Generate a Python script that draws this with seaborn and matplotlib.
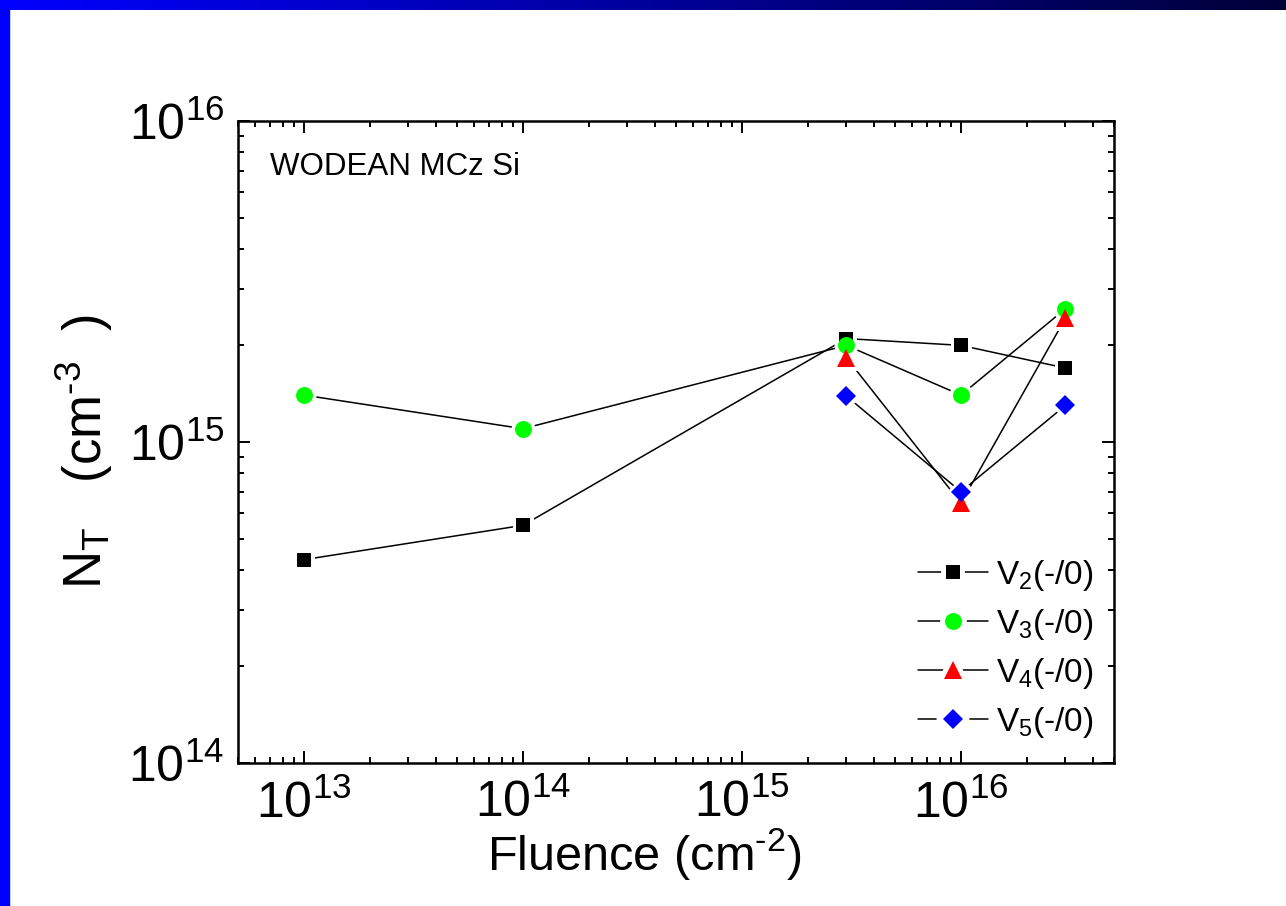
import numpy as np
import pandas as pd
import matplotlib
matplotlib.use("Agg")
import matplotlib.pyplot as plt
import seaborn as sns
from matplotlib.lines import Line2D
from matplotlib.patches import Rectangle
from matplotlib.colors import LinearSegmentedColormap
from matplotlib.ticker import LogLocator, NullFormatter
from matplotlib.legend_handler import HandlerTuple

# ---------------- data ----------------
fluence_all = [1e13, 1e14, 3e15, 1e16, 3e16]
fluence_high = [3e15, 1e16, 3e16]
v2_vals = [4.3e14, 5.5e14, 2.1e15, 2.0e15, 1.7e15]
v3_vals = [1.4e15, 1.1e15, 2.0e15, 1.4e15, 2.6e15]
v4_vals = [1.83e15, 6.45e14, 2.43e15]
v5_vals = [1.39e15, 7.0e14, 1.3e15]
series_labels = ["V$_2$(-/0)", "V$_3$(-/0)", "V$_4$(-/0)", "V$_5$(-/0)"]
x_ticks = [1e13, 1e14, 1e15, 1e16]
x_tick_labels = [r"$10^{13}$", r"$10^{14}$", r"$10^{15}$", r"$10^{16}$"]
y_ticks = [1e14, 1e15, 1e16]
y_tick_labels = [r"$10^{14}$", r"$10^{15}$", r"$10^{16}$"]

# ---------------- style ----------------
sns.set_style("ticks")
plt.rcParams["font.family"] = ["Liberation Sans", "DejaVu Sans"]
plt.rcParams["mathtext.fontset"] = "custom"
plt.rcParams["mathtext.rm"] = "Liberation Sans"
plt.rcParams["mathtext.it"] = "Liberation Sans:italic"
plt.rcParams["mathtext.default"] = "regular"
for k in ["text.color", "axes.labelcolor", "xtick.color", "ytick.color",
          "axes.edgecolor"]:
    plt.rcParams[k] = "black"

W, H = 1286, 906
fig = plt.figure(figsize=(W / 100, H / 100), dpi=100)
fig.patch.set_facecolor("white")

# slide decorations: gradient top bar and blue left bar
bar_ax = fig.add_axes([0, 1 - 10 / H, 1, 10 / H])
grad = np.linspace(0, 1, 512).reshape(1, -1)
cmap = LinearSegmentedColormap.from_list("bar", [(0, 0, 1), (0, 0, 0.22)])
bar_ax.imshow(grad, aspect="auto", cmap=cmap)
bar_ax.set_axis_off()
fig.add_artist(Rectangle((0, 0), 9 / W, 1, transform=fig.transFigure,
                         color=(0, 0, 1), zorder=10))

ax = fig.add_axes([238 / W, 1 - 763 / H, 876 / W, 642 / H])
ax.set_facecolor("white")
ax.set_xscale("log")
ax.set_yscale("log")

series = [
    (fluence_all, v2_vals, "#000000", "s", 10.0),
    (fluence_all, v3_vals, "#00ff00", "o", 12.2),
    (fluence_high, v4_vals, "#ff0000", "^", 13.5),
    (fluence_high, v5_vals, "#0000ff", "D", 10.2),
]

for xs, ys, col, mk, ms in series:
    df = pd.DataFrame({"x": xs, "y": ys})
    sns.lineplot(data=df, x="x", y="y", ax=ax, color="black", linewidth=1.1,
                 estimator=None, sort=False, legend=False, zorder=2)
for xs, ys, col, mk, ms in series:
    df = pd.DataFrame({"x": xs, "y": ys})
    sns.lineplot(data=df, x="x", y="y", ax=ax, color="white", linestyle="none",
                 marker=mk, markersize=ms, markerfacecolor="white",
                 markeredgecolor="white", markeredgewidth=5,
                 estimator=None, sort=False, legend=False, zorder=3)
for xs, ys, col, mk, ms in series:
    df = pd.DataFrame({"x": xs, "y": ys})
    sns.lineplot(data=df, x="x", y="y", ax=ax, color=col, linestyle="none",
                 marker=mk, markersize=ms, markerfacecolor=col,
                 markeredgecolor=col, markeredgewidth=0,
                 estimator=None, sort=False, legend=False, zorder=4)

ax.set_xlim(5e12, 5e16)
ax.set_ylim(1e14, 1e16)
ax.set_xticks(x_ticks, x_tick_labels)
ax.set_yticks(y_ticks, y_tick_labels)
ax.xaxis.set_minor_locator(LogLocator(base=10, subs=np.arange(2, 10), numticks=20))
ax.yaxis.set_minor_locator(LogLocator(base=10, subs=np.arange(2, 10), numticks=20))
ax.xaxis.set_minor_formatter(NullFormatter())
ax.yaxis.set_minor_formatter(NullFormatter())
ax.tick_params(which="both", direction="in", top=True, right=True,
               width=1.4, color="black")
ax.tick_params(axis="x", which="major", length=8.5, labelsize=36, pad=12)
ax.tick_params(axis="y", which="major", length=8.5, labelsize=36, pad=10)
ax.tick_params(which="minor", length=4.5)
for sp in ax.spines.values():
    sp.set_linewidth(1.8)
    sp.set_color("black")
ax.set_xlabel("")
ax.set_ylabel("")

fig.text(644 / W, 1 - 870 / H, r"Fluence (cm$^{\text{-}2}$)", ha="center",
         va="baseline", fontsize=35)
fig.text(84 / W, 1 - 452 / H, r"N$_T$   (cm$^{\text{-}3}$  )", ha="center",
         va="center", rotation=90, fontsize=38)
fig.text(270 / W, 1 - 167 / H, "WODEAN MCz Si", ha="left", va="center",
         fontsize=22.5)

handles = []
for xs, ys, col, mk, ms in series:
    halo = Line2D([], [], color="black", linewidth=1.1, marker=mk,
                  markersize=ms, markerfacecolor="white",
                  markeredgecolor="white", markeredgewidth=7)
    mark = Line2D([], [], linestyle="none", marker=mk, markersize=ms,
                  markerfacecolor=col, markeredgecolor=col, markeredgewidth=0)
    handles.append((halo, mark))
ax.legend(handles, series_labels, loc="lower left",
          handler_map={tuple: HandlerTuple(ndivide=1)},
          bbox_to_anchor=(918 / W, 1 - 740 / H), bbox_transform=fig.transFigure,
          frameon=False, fontsize=24, handlelength=2.1, handletextpad=0.25,
          labelspacing=0.42, borderpad=0, borderaxespad=0)

fig.savefig("out.png", dpi=100)
